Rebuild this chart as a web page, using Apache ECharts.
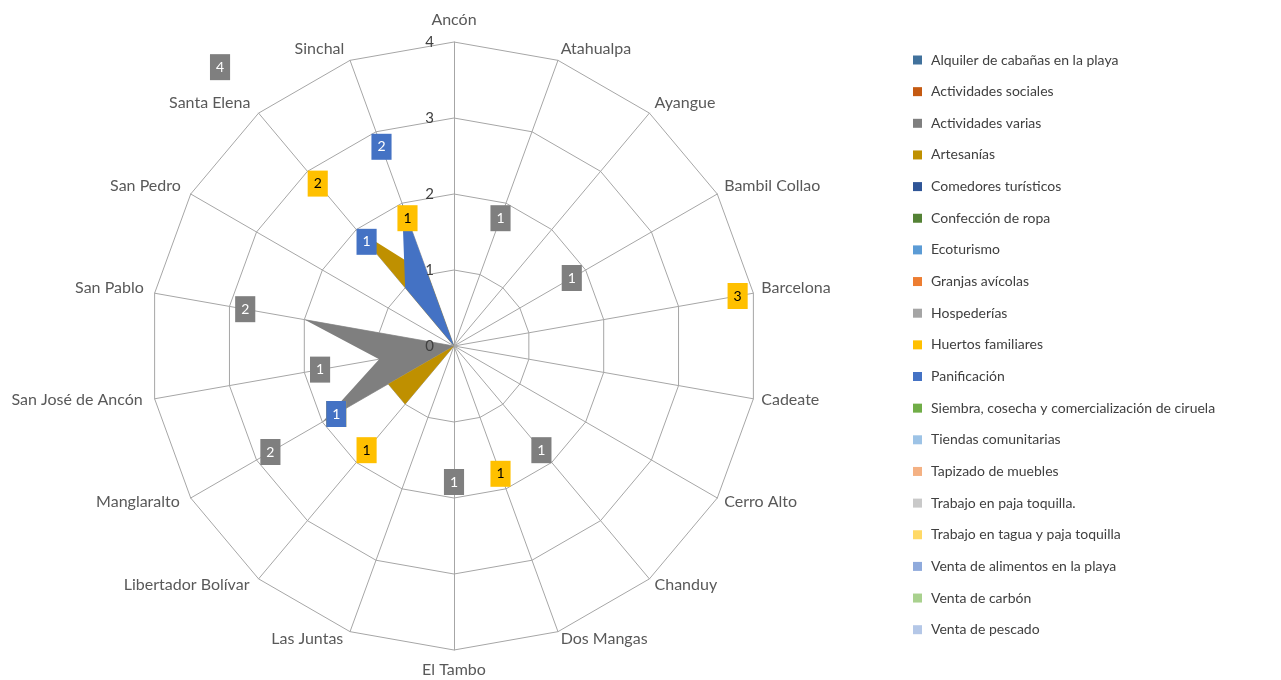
<!DOCTYPE html>
<html>
<head>
<meta charset="utf-8">
<script src="https://cdn.jsdelivr.net/npm/echarts@6/dist/echarts.min.js"></script>
<style>
  html, body { margin: 0; padding: 0; background: #fff; }
  #chart { width: 1281px; height: 680px; }
</style>
</head>
<body>
<div id="chart"></div>
<script>
// communities, clockwise from the top as in the original
var communities = ['Ancón', 'Atahualpa', 'Ayangue', 'Bambil Collao', 'Barcelona', 'Cadeate',
  'Cerro Alto', 'Chanduy', 'Dos Mangas', 'El Tambo', 'Las Juntas', 'Libertador Bolívar',
  'Manglaralto', 'San José de Ancón', 'San Pablo', 'San Pedro', 'Santa Elena', 'Sinchal'];

var activities = ['Alquiler de cabañas en la playa', 'Actividades sociales', 'Actividades varias',
  'Artesanías', 'Comedores turísticos', 'Confección de ropa', 'Ecoturismo', 'Granjas avícolas',
  'Hospederías', 'Huertos familiares', 'Panificación',
  'Siembra, cosecha y comercialización de ciruela', 'Tiendas comunitarias', 'Tapizado de muebles',
  'Trabajo en paja toquilla.', 'Trabajo en tagua y paja toquilla', 'Venta de alimentos en la playa',
  'Venta de carbón', 'Venta de pescado'];

var colors = ['#41719C', '#C55A11', '#7F7F7F', '#BF9000', '#2F5597', '#548235', '#5B9BD5', '#ED7D31',
  '#A5A5A5', '#FFC000', '#4472C4', '#70AD47', '#9DC3E6', '#F4B183', '#C9C9C9', '#FFD966',
  '#8FAADC', '#A9D18E', '#B4C7E7'];

var ticks = [0, 1, 2, 3, 4];

// values in community order (Ancón ... Sinchal)
var sinValores        = [0,0,0,0,0,0,0,0,0,0,0,0,0,0,0,0,0,0];
var actividadesVarias = [0,1,0,1,0,0,0,1,0,1,0,0,2,1,2,0,4,0];
var huertosFamiliares = [0,0,0,0,3,0,0,0,1,0,0,1,1,0,0,0,2,1];
var panificacion      = [0,0,0,0,0,0,0,0,0,0,0,0,1,0,0,0,1,2];

var values = activities.map(function (a) {
  if (a === 'Actividades varias') return actividadesVarias;
  if (a === 'Huertos familiares') return huertosFamiliares;
  if (a === 'Panificación') return panificacion;
  return sinValores;
});

// echarts lays radar axes out counter-clockwise, so walk the list backwards after the first
var order = [0];
for (var i = communities.length - 1; i > 0; i--) order.push(i);
function reorder(arr) { return order.map(function (k) { return arr[k]; }); }

var CX = 454, CY = 346, R = 304;
var FONT = 'Lato';
var NAME_SIZE = 16;

var chart = echarts.init(document.getElementById('chart'), null, { renderer: 'canvas' });

var items = activities.map(function (a, i) {
  var dark = a !== 'Huertos familiares';
  return {
    name: a,
    value: reorder(values[i]),
    itemStyle: { color: colors[i] },
    areaStyle: { color: a === 'Huertos familiares' ? '#BF9000' : colors[i], opacity: 1 },
    lineStyle: { width: 0 },
    label: {
      show: true,
      color: dark ? '#FFFFFF' : '#000000',
      backgroundColor: colors[i]
    }
  };
});

function nameStyle(pad) {
  return { fontFamily: FONT, fontSize: NAME_SIZE, color: '#595959', padding: pad };
}

var option = {
  animation: false,
  textStyle: { fontFamily: FONT },
  legend: {
    orient: 'vertical',
    left: 908,
    top: 47,
    icon: 'rect',
    itemWidth: 9,
    itemHeight: 9,
    itemGap: 15.65,
    data: activities,
    formatter: function (name) { return '{t|' + name + '}'; },
    textStyle: {
      fontFamily: FONT, fontSize: 14, color: '#404040', lineHeight: 16,
      rich: { t: { fontFamily: FONT, fontSize: 14, color: '#404040', lineHeight: 16, padding: [0, 0, 0, 4] } }
    }
  },
  radar: {
    center: [CX, CY],
    radius: R,
    startAngle: 90,
    shape: 'polygon',
    splitNumber: 4,
    indicator: reorder(communities).map(function (c) { return { name: c, min: 0, max: 4 }; }),
    axisName: {
      color: '#595959',
      fontFamily: FONT,
      fontSize: NAME_SIZE,
      formatter: function (name) {
        var k = communities.indexOf(name);
        var a = k * 20 * Math.PI / 180;
        var c = Math.cos(a), s = Math.sin(a);
        if (k === 0) return '{top|' + name + '}';
        if (k === 9) return '{bot|' + name + '}';
        if (c > 0.1) return (s < 0 ? '{upL|' : '{up|') + name + '}';
        return (s < 0 ? '{midL|' : '{mid|') + name + '}';
      },
      rich: {
        top: nameStyle([0, 0, 6, 0]),
        bot: nameStyle([4, 0, 0, 0]),
        up: nameStyle([0, 0, 8, 0]),
        upL: nameStyle([0, 3, 8, 0]),
        mid: nameStyle([0, 0, 0, 0]),
        midL: nameStyle([0, 4, 0, 0])
      }
    },
    nameGap: 8,
    axisLine: { lineStyle: { color: '#A6A6A6', width: 1 } },
    splitLine: { lineStyle: { color: '#A6A6A6', width: 1 } },
    splitArea: { show: false },
    axisTick: { show: false },
    axisLabel: { show: false }
  },
  grid: { left: CX, top: CY - R, width: 1, height: R, z: 10 },
  xAxis: { type: 'value', show: false },
  yAxis: {
    type: 'value',
    z: 10,
    min: ticks[0],
    max: ticks[ticks.length - 1],
    interval: 1,
    axisLine: { show: false },
    axisTick: { show: false },
    splitLine: { show: false },
    axisLabel: { margin: 20, color: '#404040', fontFamily: FONT, fontSize: 15 }
  },
  series: [{
    type: 'radar',
    z: 2,
    symbol: 'circle',
    symbolSize: 0.01,
    label: {
      show: true,
      fontFamily: FONT,
      fontSize: 14,
      lineHeight: 14,
      padding: [6, 6, 6, 6],
      formatter: function (p) { return p.value ? String(p.value) : ''; }
    },
    labelLayout: function (p) {
      if (!p.text) return { x: -200, y: -200 };
      var px = p.rect.x + p.rect.width / 2;
      var py = p.rect.y + p.rect.height / 2;
      var dx = px - CX, dy = py - CY;
      var len = Math.sqrt(dx * dx + dy * dy) || 1;
      return { x: px + 60 * dx / len, y: py + 60 * dy / len, align: 'center', verticalAlign: 'middle' };
    },
    data: items
  }]
};

chart.setOption(option);
</script>
</body>
</html>
